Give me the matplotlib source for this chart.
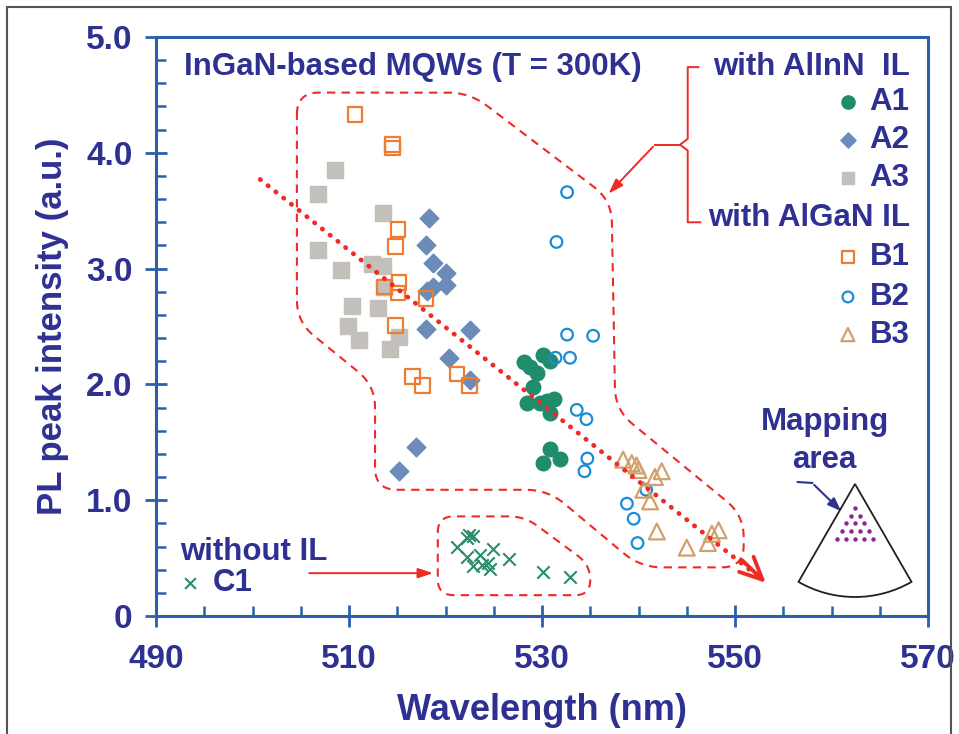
import numpy as np
import matplotlib
matplotlib.use("Agg")
import matplotlib.pyplot as plt
from matplotlib.patches import Wedge, Rectangle
from matplotlib.ticker import MultipleLocator, FixedLocator

plt.rcParams['font.family'] = ['Liberation Sans', 'DejaVu Sans']
plt.rcParams['font.weight'] = 'bold'

# ---- data (wavelength nm, PL intensity a.u.) ----
a1_x = [528.1, 528.8, 529.5, 530.1, 530.8, 529.1, 528.4, 529.8, 530.5, 531.2, 530.8, 530.8, 530.1, 531.9]
a1_y = [2.19, 2.15, 2.10, 2.25, 2.20, 1.98, 1.84, 1.84, 1.86, 1.87, 1.75, 1.44, 1.32, 1.36]

a2_x = [518.3, 518.0, 518.7, 520.1, 518.7, 520.1, 518.1, 518.0, 522.5, 520.4, 522.5, 516.9, 515.2]
a2_y = [3.44, 3.20, 3.05, 2.96, 2.84, 2.86, 2.81, 2.48, 2.47, 2.23, 2.04, 1.46, 1.25]

a3_x = [508.6, 506.8, 513.5, 506.8, 509.2, 512.4, 513.5, 513.6, 510.3, 513.0, 509.9, 511.0, 515.2, 514.2]
a3_y = [3.85, 3.64, 3.48, 3.16, 2.99, 3.04, 3.02, 2.84, 2.68, 2.66, 2.50, 2.38, 2.41, 2.31]

b1_x = [510.6, 514.5, 514.5, 515.1, 514.8, 515.2, 513.7, 515.1, 518.0, 514.8, 516.6, 517.6, 521.2, 522.5]
b1_y = [4.33, 4.07, 4.04, 3.34, 3.19, 2.88, 2.84, 2.79, 2.74, 2.51, 2.07, 1.99, 2.09, 1.99]

b2_x = [532.6, 531.5, 532.6, 535.3, 531.4, 532.9, 533.6, 534.6, 534.7, 534.4, 540.8, 538.8, 539.5, 539.9]
b2_y = [3.66, 3.23, 2.43, 2.42, 2.23, 2.23, 1.78, 1.70, 1.36, 1.25, 1.09, 0.97, 0.84, 0.63]

b3_x = [538.4, 539.3, 539.8, 540.0, 541.7, 542.4, 540.5, 541.2, 541.9, 545.0, 547.2, 547.6, 548.3]
b3_y = [1.35, 1.32, 1.30, 1.26, 1.20, 1.25, 1.09, 0.99, 0.73, 0.59, 0.63, 0.71, 0.74]

c1_x = [522.4, 522.9, 522.2, 521.2, 522.2, 523.6, 524.9, 522.9, 523.8, 524.4, 524.6, 526.6, 530.1, 532.9]
c1_y = [0.70, 0.69, 0.67, 0.60, 0.51, 0.53, 0.58, 0.43, 0.44, 0.46, 0.41, 0.49, 0.38, 0.34]

x_ticks = [490, 510, 530, 550, 570]
y_ticks = [0, 1, 2, 3, 4, 5]
y_tick_labels = ["0", "1.0", "2.0", "3.0", "4.0", "5.0"]

navy = "#2e3192"
spine_blue = "#2b5fae"
red = "#ee2b24"
c_a1 = "#1f8c6c"
c_a2 = "#6b8bb8"
c_a3 = "#c3bfbb"
c_b1 = "#ec7d31"
c_b2 = "#1b8bd6"
c_b3 = "#d2a06c"
c_c1 = "#2a8c6c"

fig = plt.figure(figsize=(9.59, 7.34), dpi=100)
ax = fig.add_axes([156 / 959, 1 - 616 / 734, 772 / 959, 579 / 734])
ax.set_xlim(490, 570)
ax.set_ylim(0, 5)

# axes styling
for s in ax.spines.values():
    s.set_color(spine_blue)
    s.set_linewidth(2.2)
ax.xaxis.set_major_locator(FixedLocator(x_ticks))
ax.xaxis.set_minor_locator(MultipleLocator(5))
ax.yaxis.set_major_locator(FixedLocator(y_ticks))
ax.yaxis.set_minor_locator(MultipleLocator(0.2))
ax.set_yticklabels(y_tick_labels)
ax.tick_params(which='major', direction='inout', length=16, width=2, color=spine_blue,
               labelsize=24, labelcolor=navy, pad=9)
ax.tick_params(which='minor', direction='in', length=7, width=1.8, color=spine_blue)
ax.tick_params(axis='x', which='major', pad=12)
ax.set_xlabel("Wavelength (nm)", fontsize=26, color=navy, fontweight='bold', labelpad=13)
ax.set_ylabel("PL peak intensity (a.u.)", fontsize=25, color=navy, fontweight='bold', labelpad=12)

# scatter series
ax.scatter(a1_x, a1_y, s=110, marker='o', color=c_a1, zorder=4)
ax.scatter(a2_x, a2_y, s=90, marker='D', color=c_a2, zorder=4)
ax.scatter(a3_x, a3_y, s=120, marker='s', color=c_a3, zorder=3)
ax.scatter(b1_x, b1_y, s=110, marker='s', facecolor='none', edgecolor=c_b1, linewidth=1.6, zorder=4)
ax.scatter(b2_x, b2_y, s=70, marker='o', facecolor='none', edgecolor=c_b2, linewidth=1.6, zorder=4)
ax.scatter(b3_x, b3_y, s=130, marker='^', facecolor='none', edgecolor=c_b3, linewidth=1.6, zorder=4)
ax.scatter(c1_x, c1_y, s=80, marker='x', color=c_c1, linewidth=1.5, zorder=4)

# dotted trend arrow
ax.plot([500.8, 553.0], [3.77, 0.30], color=red, lw=3.4, linestyle=(0, (0.1, 2.0)),
        dash_capstyle='round', zorder=5)
ax.annotate("", xy=(553.4, 0.27), xytext=(550.5, 0.50),
            arrowprops=dict(arrowstyle='->, head_length=1.6, head_width=0.75', color=red, lw=2.8),
            zorder=5)


def rounded_outline(verts, r=18, n=12):
    # round the corners of a closed polygon (given in data coords) in pixel space
    fig.canvas.draw()
    T = ax.transData
    P = T.transform(np.array(verts))
    pts = []
    m = len(P)
    for i in range(m):
        p0, p1, p2 = P[i - 1], P[i], P[(i + 1) % m]
        d0 = p0 - p1
        d2 = p2 - p1
        rr = min(r, np.linalg.norm(d0) / 2, np.linalg.norm(d2) / 2)
        a = p1 + d0 / np.linalg.norm(d0) * rr
        b = p1 + d2 / np.linalg.norm(d2) * rr
        t = np.linspace(0, 1, n)[:, None]
        pts.append((1 - t) ** 2 * a + 2 * (1 - t) * t * p1 + t ** 2 * b)
    pts = np.vstack(pts + [pts[0][:1]])
    return T.inverted().transform(pts)


big_outline = [(504.6, 4.52), (522.5, 4.52), (537.2, 3.59), (537.6, 1.78), (550.9, 0.87),
               (550.9, 0.42), (540.2, 0.42), (530.6, 1.09), (512.7, 1.09), (512.7, 1.99),
               (504.6, 2.54)]
small_outline = [(519.2, 0.86), (528.2, 0.86), (535.0, 0.44), (535.0, 0.18), (519.2, 0.18)]
for v, rad in [(big_outline, 22), (small_outline, 16)]:
    o = rounded_outline(v, r=rad)
    ax.plot(o[:, 0], o[:, 1], color=red, lw=1.5, linestyle=(0, (4, 3)), zorder=2)

# brace + arrow towards the big outline
ax.plot([546.2, 545.1, 545.1, 544.3, 545.1, 545.1, 546.4],
        [4.74, 4.74, 4.12, 4.07, 4.02, 3.40, 3.40], color=red, lw=1.4)
ax.plot([544.3, 541.7], [4.07, 4.07], color=red, lw=1.4)
ax.annotate("", xy=(536.7, 3.63), xytext=(541.7, 4.07),
            arrowprops=dict(arrowstyle='-|>, head_length=0.9, head_width=0.3', color=red, lw=1.4))

# arrow from "without IL" to small outline
ax.annotate("", xy=(519.0, 0.37), xytext=(505.6, 0.37),
            arrowprops=dict(arrowstyle='-|>, head_length=0.9, head_width=0.3', color=red, lw=1.4))

# text annotations
tkw = dict(color=navy, fontsize=22.5, fontweight='bold', va='center')
ax.text(516.6, 4.74, "InGaN-based MQWs (T = 300K)", ha='center', **tkw)
ax.text(568.1, 4.74, "with AlInN  IL", ha='right', **tkw)
ax.text(568.1, 3.44, "with AlGaN IL", ha='right', **tkw)

leg_x = 561.7
leg_items = [
    ("A1", 4.44, dict(marker='o', s=90, color=c_a1)),
    ("A2", 4.11, dict(marker='D', s=60, color=c_a2)),
    ("A3", 3.78, dict(marker='s', s=80, color=c_a3)),
    ("B1", 3.10, dict(marker='s', s=70, facecolor='none', edgecolor=c_b1, linewidth=1.6)),
    ("B2", 2.755, dict(marker='o', s=60, facecolor='none', edgecolor=c_b2, linewidth=1.6)),
    ("B3", 2.43, dict(marker='^', s=90, facecolor='none', edgecolor=c_b3, linewidth=1.6)),
]
for lab, yy, kw in leg_items:
    ax.scatter([leg_x], [yy], zorder=4, **kw)
    ax.text(568.1, yy, lab, ha='right', **tkw)

ax.text(492.5, 0.553, "without IL", ha='left', **tkw)
ax.scatter([493.5], [0.285], marker='x', s=60, color=c_c1, linewidth=1.5)
ax.text(495.9, 0.285, "C1", ha='left', **tkw)

ax.text(559.3, 1.675, "Mapping", ha='center', **tkw)
ax.text(559.3, 1.347, "area", ha='center', **tkw)

# mapping-area sketch (inset drawn in pixel-like units)
ins = fig.add_axes([780 / 959, 1 - 604 / 734, 150 / 959, 128 / 734])
ins.set_xlim(780, 930)
ins.set_ylim(604, 476)
ins.set_aspect('equal')
ins.axis('off')
ins.add_patch(Wedge((855, 484), 113, 60, 120, fill=False, ec='#231f20', lw=1.3))
for row in range(5):
    for k in range(row + 1):
        ins.plot(855 - 4.5 * row + 9 * k, 508 + 7.7 * row, 'o', ms=2.2, color='#8b2a8e')

ax.plot([556.5, 558.0], [1.157, 1.149], color=navy, lw=1.5)
ax.annotate("", xy=(561.2, 0.889), xytext=(558.0, 1.149),
            arrowprops=dict(arrowstyle='-|>, head_length=0.8, head_width=0.3', color=navy, lw=1.5))

# figure frame
fig.add_artist(Rectangle((7 / 959, -0.01), 944 / 959, 1 - 7 / 734 + 0.01, transform=fig.transFigure,
                         fill=False, ec='#555555', lw=1.5))

fig.savefig("out.png", dpi=100)
